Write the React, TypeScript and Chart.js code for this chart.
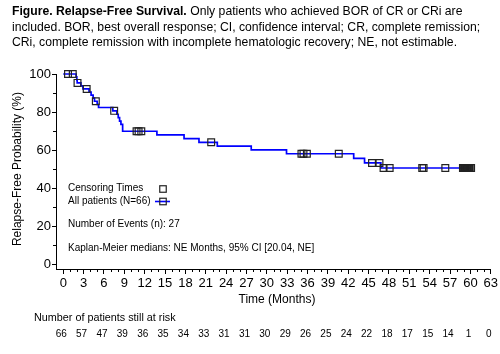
import React, { useEffect, useRef } from 'react';
import { Chart, registerables } from 'chart.js';
Chart.register(...registerables);

const FONT = '"Liberation Sans", Arial, Helvetica, sans-serif';

// Kaplan-Meier step points (time in months, survival %)
const stepTimes = [0, 1.9, 2.0, 2.05, 2.6, 2.9, 3.8, 4.1, 4.4, 4.6, 5.0, 5.2, 7.3, 7.9, 8.1, 8.3, 8.5, 8.75, 13.8, 17.8, 20.0, 22.7, 27.7, 32.9, 42.8, 44.4, 46.8, 60.1];
const stepSurv = [100, 98.44, 96.88, 95.31, 93.72, 92.13, 90.52, 88.9, 87.29, 85.67, 84.02, 82.37, 80.62, 78.83, 77.04, 75.25, 73.46, 69.87, 67.93, 65.99, 64.05, 62.05, 60.05, 58.05, 55.63, 53.21, 50.55, 50.55];

// Censoring times (months)
const censorTimes = [0.7, 1.4, 2.1, 3.45, 4.8, 7.5, 10.8, 11.1, 11.5, 21.8, 35.1, 35.4, 35.9, 40.6, 45.5, 46.6, 47.2, 48.1, 52.9, 53.1, 56.3, 58.9, 59.0, 59.1, 59.2, 59.25, 59.3, 59.4, 59.5, 59.55, 59.6, 59.7, 59.8, 59.9, 60.1];

const xTickValues = [0, 3, 6, 9, 12, 15, 18, 21, 24, 27, 30, 33, 36, 39, 42, 45, 48, 51, 54, 57, 60, 63];
const yTickValues = [0, 20, 40, 60, 80, 100];
const xMinorValues = Array.from({ length: 64 }, (_, i) => i).filter((v) => v % 3 !== 0);
const yMinorValues = [10, 30, 50, 70, 90];

const riskTimes = xTickValues;
const riskCounts = [66, 57, 47, 39, 36, 35, 34, 33, 31, 31, 30, 29, 26, 25, 24, 22, 18, 17, 15, 14, 1, 0];

const survAt = (t: number) => {
  let s = stepSurv[0];
  for (let i = 0; i < stepTimes.length; i++) {
    if (stepTimes[i] <= t) s = stepSurv[i];
  }
  return s;
};

const BLUE = '#0000ff';

const annotPlugin = {
  id: 'annot',
  afterDraw(chart: any) {
    const { ctx, chartArea } = chart;
    const x = chart.scales.x;
    const y = chart.scales.y;
    ctx.save();
    // minor ticks
    ctx.strokeStyle = '#000';
    ctx.lineWidth = 1;
    ctx.beginPath();
    for (const t of xMinorValues) {
      const px = Math.round(x.getPixelForValue(t)) + 0.5;
      ctx.moveTo(px, chartArea.bottom);
      ctx.lineTo(px, chartArea.bottom + 3);
    }
    for (const v of yMinorValues) {
      const py = Math.round(y.getPixelForValue(v)) + 0.5;
      ctx.moveTo(chartArea.left - 3, py);
      ctx.lineTo(chartArea.left, py);
    }
    ctx.stroke();

    // axis titles
    ctx.fillStyle = '#000';
    ctx.font = `12px ${FONT}`;
    ctx.textAlign = 'center';
    ctx.textBaseline = 'middle';
    const xMid = (x.getPixelForValue(0) + x.getPixelForValue(63)) / 2;
    ctx.fillText('Time (Months)', xMid, 299.5);
    const yMid = (y.getPixelForValue(0) + y.getPixelForValue(100)) / 2;
    ctx.save();
    ctx.translate(18, yMid);
    ctx.rotate(-Math.PI / 2);
    ctx.fillText('Relapse-Free Probability (%)', 0, 0);
    ctx.restore();

    // inset legend / annotations
    const lx = chartArea.left + 12;
    ctx.font = `10px ${FONT}`;
    ctx.textAlign = 'left';
    ctx.fillText('Censoring Times', lx, chartArea.top + 114.5);
    ctx.fillText('All patients (N=66)', lx, chartArea.top + 127);
    ctx.fillText('Number of Events (n): 27', lx, chartArea.top + 150.5);
    ctx.fillText('Kaplan-Meier medians: NE Months, 95% CI [20.04, NE]', lx, chartArea.top + 174.5);

    const sq = 6.5;
    const sx = chartArea.left + 107;
    ctx.strokeStyle = '#222';
    ctx.lineWidth = 1.2;
    ctx.strokeRect(sx - sq / 2, chartArea.top + 115 - sq / 2, sq, sq);
    ctx.strokeStyle = BLUE;
    ctx.lineWidth = 1.6;
    ctx.beginPath();
    ctx.moveTo(sx - 8, chartArea.top + 127.5);
    ctx.lineTo(sx + 7, chartArea.top + 127.5);
    ctx.stroke();
    ctx.strokeStyle = '#222';
    ctx.lineWidth = 1.2;
    ctx.strokeRect(sx - sq / 2, chartArea.top + 127.5 - sq / 2, sq, sq);

    // number at risk
    ctx.fillStyle = '#000';
    ctx.font = `10.8px ${FONT}`;
    ctx.textAlign = 'left';
    ctx.fillText('Number of patients still at risk', 34, 318);
    ctx.font = `10px ${FONT}`;
    ctx.textAlign = 'center';
    riskTimes.forEach((t, i) => {
      ctx.fillText(String(riskCounts[i]), x.getPixelForValue(t) - 2, 334);
    });
    ctx.restore();
  },
};

export default function App() {
  const ref = useRef<HTMLCanvasElement | null>(null);
  useEffect(() => {
    document.body.style.margin = '0';
    if (!ref.current) return;
    const chart = new Chart(ref.current, {
      type: 'line',
      data: {
        datasets: [
          {
            type: 'line',
            label: 'All patients (N=66)',
            data: stepTimes.map((t, i) => ({ x: t, y: stepSurv[i] })),
            borderColor: BLUE,
            borderWidth: 1.7,
            stepped: true,
            pointRadius: 0,
            fill: false,
            clip: false as any,
            order: 2,
          },
          {
            type: 'scatter',
            label: 'Censoring Times',
            data: censorTimes.map((t) => ({ x: t, y: survAt(t) })),
            pointStyle: 'rect',
            pointRadius: 4.8,
            borderColor: '#222',
            backgroundColor: 'rgba(0,0,0,0)',
            borderWidth: 1.2,
            showLine: false,
            clip: false as any,
            order: 1,
          } as any,
        ],
      },
      options: {
        animation: false,
        responsive: false,
        devicePixelRatio: 1,
        layout: { padding: { left: 0, top: 74, right: 9, bottom: 0 } },
        plugins: { legend: { display: false }, tooltip: { enabled: false }, title: { display: false } },
        scales: {
          x: {
            type: 'linear',
            min: -1.07,
            max: 63,
            afterBuildTicks: (s: any) => {
              s.ticks = xTickValues.map((v) => ({ value: v }));
            },
            afterFit: (s: any) => {
              s.height = 85;
            },
            grid: { display: true, drawOnChartArea: false, drawTicks: true, tickLength: 5, color: '#000', lineWidth: 1 },
            border: { display: true, color: '#000', width: 1 },
            ticks: { color: '#000', font: { family: FONT, size: 13 }, padding: 2, maxRotation: 0, autoSkip: false },
          },
          y: {
            type: 'linear',
            min: -2.6,
            max: 100,
            afterBuildTicks: (s: any) => {
              s.ticks = yTickValues.map((v) => ({ value: v }));
            },
            afterFit: (s: any) => {
              s.width = 56;
            },
            grid: { display: true, drawOnChartArea: false, drawTicks: true, tickLength: 4, color: '#000', lineWidth: 1 },
            border: { display: true, color: '#000', width: 1 },
            ticks: { color: '#000', font: { family: FONT, size: 13 }, padding: 1 },
          },
        },
      },
      plugins: [annotPlugin],
    } as any);
    return () => chart.destroy();
  }, []);

  return (
    <div style={{ position: 'relative', width: 500, height: 354, background: '#fff' }}>
      <canvas ref={ref} width={500} height={354} style={{ display: 'block', width: 500, height: 354 }} />
      <div
        style={{
          position: 'absolute',
          left: 12,
          top: 4,
          width: 488,
          fontFamily: FONT,
          fontSize: 12.2,
          lineHeight: '15.6px',
          color: '#000',
          whiteSpace: 'nowrap',
        }}
      >
        <b>Figure. Relapse-Free Survival.</b> Only patients who achieved BOR of CR or CRi are
        <br />
        included. BOR, best overall response; CI, confidence interval; CR, complete remission;
        <br />
        CRi, complete remission with incomplete hematologic recovery; NE, not estimable.
      </div>
    </div>
  );
}
